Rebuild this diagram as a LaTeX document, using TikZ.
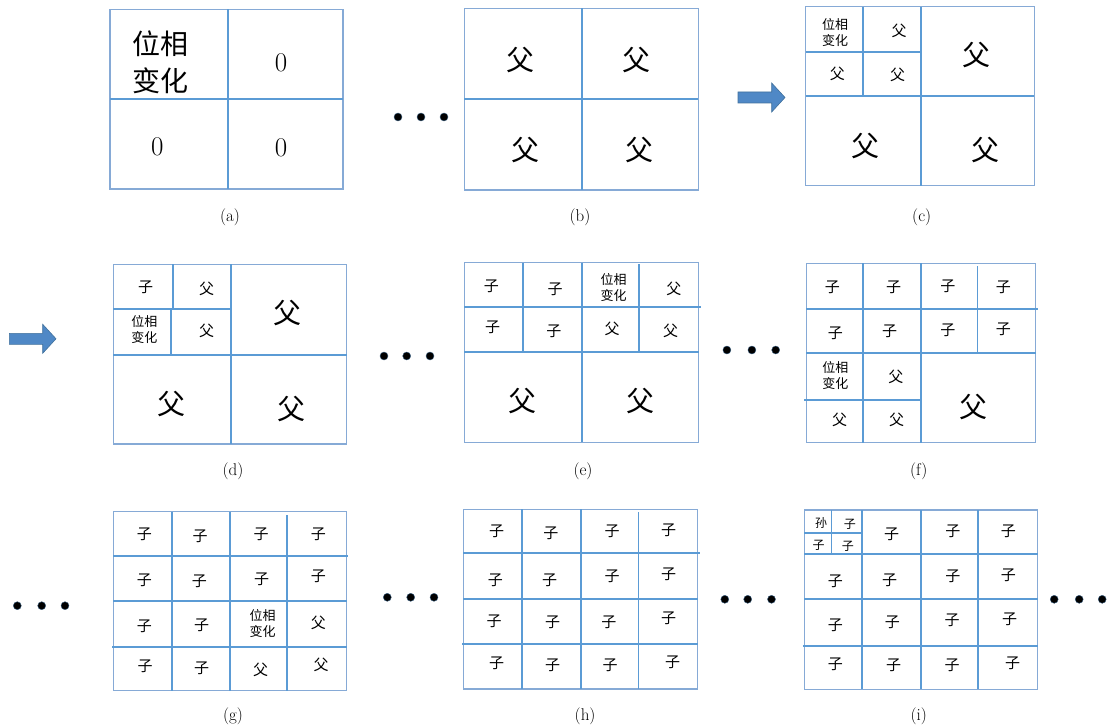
\documentclass[tikz,border=0pt]{standalone}
\usepackage{fontspec}
\newfontfamily\cjk{Noto Sans CJK SC}
\definecolor{framecol}{HTML}{86AAD6}
\definecolor{gridcol}{HTML}{5B9BD5}
\definecolor{arrowfill}{HTML}{4F88C6}
\definecolor{arrowedge}{HTML}{41719C}

\begin{document}
\begin{tikzpicture}[
  x=1pt, y=-1pt,
  frame/.style={draw=framecol, line width=1.1pt},
  divider/.style={draw=gridcol, line width=1.9pt},
  fubig/.style={font=\cjk\fontsize{28}{28}\selectfont},
  fusmall/.style={font=\cjk\fontsize{15}{15}\selectfont},
  zi/.style={font=\cjk\fontsize{15}{15}\selectfont},
  sun/.style={font=\cjk\fontsize{12}{12}\selectfont},
  phase/.style={font=\cjk\fontsize{13}{16}\selectfont, align=center, inner sep=0pt},
  phasebig/.style={font=\cjk\fontsize{28}{37}\selectfont, align=center, inner sep=0pt},
  zero/.style={font=\fontsize{27}{27}\selectfont},
  caption/.style={font=\fontsize{17}{17}\selectfont},
  dot/.style={circle, fill=black, draw=gridcol!60!black, line width=0.4pt,
    inner sep=0pt, minimum size=8pt},
  blockarrow/.style={fill=arrowfill, draw=arrowedge, line width=0.6pt},
]
\useasboundingbox (0,0) rectangle (1113,727);

% Caption rows
\def\capa{217}
\def\capb{471}
\def\capc{716}

% ============================================================
% (a) first phase change
% ============================================================
\draw[frame] (110,9.5) rectangle (343,189);
\draw[divider] (227.7,9.5) -- (227.7,189);
\draw[divider] (110,99.3) -- (343,99.3);

\node[phasebig] (a1) at (160,62) {位相\\变化};
\node[zero] (a2) at (281,63) {0};
\node[zero] (a3) at (157.3,147) {0};
\node[zero] (a4) at (281,148) {0};
\node[caption] (acap) at (230,\capa) {(a)};

\node[dot] (ad1) at (398,117) {};
\node[dot] (ad2) at (421,117) {};
\node[dot] (ad3) at (444,117) {};

% ============================================================
% (b) all parents
% ============================================================
\draw[frame] (464.3,8.3) rectangle (698.3,190);
\draw[divider] (582,8.3) -- (582,190);
\draw[divider] (464.3,99.3) -- (698.3,99.3);

\node[fubig] (b1) at (520,60) {父};
\node[fubig] (b2) at (636,60) {父};
\node[fubig] (b3) at (525.7,150) {父};
\node[fubig] (b4) at (639.3,150) {父};
\node[caption] (bcap) at (580,\capa) {(b)};

\draw[blockarrow, shift={(738,97.5)}] (0,-5.5) -- ++(33.7,0) -- ++(0,-9)
  -- ++(13.3,14.5) -- ++(-13.3,14.5) -- ++(0,-9) -- ++(-33.7,0) -- cycle;

% ============================================================
% (c) split of the first parent
% ============================================================
\draw[frame] (805.7,6.7) rectangle (1034.3,185.7);
\draw[divider] (920.7,6.7) -- (920.7,185.7);
\draw[divider] (805.7,96) -- (1034.3,96);
\draw[divider] (863.3,6.7) -- (863.3,97);
\draw[divider] (805.7,51.7) -- (920.7,51.7);

\node[phase] (c1) at (835,33) {位相\\变化};
\node[fusmall] (c2) at (899,31) {父};
\node[fusmall] (c3) at (837.3,74) {父};
\node[fusmall] (c4) at (897.7,75) {父};
\node[fubig] (c5) at (976.7,55) {父};
\node[fubig] (c6) at (865,146) {父};
\node[fubig] (c7) at (985,150) {父};
\node[caption] (ccap) at (921.7,\capa) {(c)};

% ============================================================
% (d) first child
% ============================================================
\draw[blockarrow, shift={(9.3,338.8)}] (0,-5.5) -- ++(33.4,0) -- ++(0,-9)
  -- ++(13.3,14.5) -- ++(-13.3,14.5) -- ++(0,-9) -- ++(-33.4,0) -- cycle;

\draw[frame] (113.3,264.3) rectangle (346.7,444);
\draw[divider] (230.7,264.3) -- (230.7,444);
\draw[divider] (113.3,355) -- (346.7,355);
\draw[divider] (172.7,264.3) -- (172.7,309);
\draw[divider] (171.3,309) -- (171.3,355);
\draw[divider] (113.3,309) -- (230.7,309);

\node[zi] (d1) at (145.7,287.3) {子};
\node[fusmall] (d2) at (206.7,288.7) {父};
\node[phase] (d3) at (144.3,330) {位相\\变化};
\node[fusmall] (d4) at (206.7,330.7) {父};
\node[fubig] (d5) at (287.3,312.7) {父};
\node[fubig] (d6) at (171,404) {父};
\node[fubig] (d7) at (291,409.3) {父};
\node[caption] (dcap) at (233,\capb) {(d)};

\node[dot] (dd1) at (384,356) {};
\node[dot] (dd2) at (406.7,356) {};
\node[dot] (dd3) at (430,356) {};

% ============================================================
% (e) second parent split
% ============================================================
\draw[frame] (464.2,262.7) rectangle (698.5,442.3);
\draw[divider] (464.2,307.3) -- (701,307.3);
\draw[divider] (464.2,351.7) -- (698.5,351.7);
\draw[divider] (523.4,262.7) -- (523.4,353);
\draw[divider] (582.2,262.7) -- (582.2,442.3);
\draw[divider] (639.3,264.5) -- (639.3,351.7);

\node[zi] (e1) at (491.3,286.7) {子};
\node[zi] (e2) at (555.1,289.3) {子};
\node[phase] (e3) at (613.5,287.7) {位相\\变化};
\node[fusmall] (e4) at (673.9,289.3) {父};
\node[zi] (e5) at (492.5,327.3) {子};
\node[zi] (e6) at (553.8,331) {子};
\node[fusmall] (e7) at (612.2,329.3) {父};
\node[fusmall] (e8) at (670.6,330.7) {父};
\node[fubig] (e9) at (522.6,400.7) {父};
\node[fubig] (e10) at (640.1,400.7) {父};
\node[caption] (ecap) at (583,\capb) {(e)};

\node[dot] (ed1) at (726.9,350) {};
\node[dot] (ed2) at (751.9,350) {};
\node[dot] (ed3) at (775.7,350) {};

% ============================================================
% (f) third parent split
% ============================================================
\draw[frame] (806.1,263.3) rectangle (1035.5,442.7);
\draw[divider] (806.1,308.7) -- (1037.5,308.7);
\draw[divider] (806.1,353.3) -- (1035.5,353.3);
\draw[divider] (804.4,400) -- (921.2,400);
\draw[divider] (863.2,263.3) -- (863.2,442.7);
\draw[divider] (921.2,263.3) -- (921.2,442.7);
\draw[divider] (977.5,266.5) -- (977.5,353.3);

\node[zi] (f1) at (832.4,287.3) {子};
\node[zi] (f2) at (893.7,287.3) {子};
\node[zi] (f3) at (947.9,286) {子};
\node[zi] (f4) at (1003.4,287.3) {子};
\node[zi] (f5) at (835.3,333.3) {子};
\node[zi] (f6) at (889.5,331.7) {子};
\node[zi] (f7) at (947.9,330) {子};
\node[zi] (f8) at (1003.4,329) {子};
\node[phase] (f9) at (835.3,376) {位相\\变化};
\node[fusmall] (f10) at (895.8,376.7) {父};
\node[fusmall] (f11) at (839.5,420) {父};
\node[fusmall] (f12) at (896.6,420) {父};
\node[fubig] (f13) at (973.7,406.7) {父};
\node[caption] (fcap) at (918.7,\capb) {(f)};

% ============================================================
% (g) last parent split
% ============================================================
\node[dot] (gd1) at (17.3,605.7) {};
\node[dot] (gd2) at (41.7,605.7) {};
\node[dot] (gd3) at (65,605.7) {};

\draw[frame] (113.3,511.7) rectangle (346.7,690.7);
\draw[divider] (113.3,555.7) -- (348.3,555.7);
\draw[divider] (113.3,600.7) -- (346.7,600.7);
\draw[divider] (112,646.7) -- (346.7,646.7);
\draw[divider] (171.7,511.7) -- (171.7,690.7);
\draw[divider] (230,511.7) -- (230,690.7);
\draw[divider] (287.3,515) -- (287.3,690.7);

\node[zi] (g1) at (144.3,534.3) {子};
\node[zi] (g2) at (200,536) {子};
\node[zi] (g3) at (261,534.3) {子};
\node[zi] (g4) at (318.3,534.3) {子};
\node[zi] (g5) at (144.3,580) {子};
\node[zi] (g6) at (199.3,581.7) {子};
\node[zi] (g7) at (261.7,579.3) {子};
\node[zi] (g8) at (318.3,576) {子};
\node[zi] (g9) at (144.3,626) {子};
\node[zi] (g10) at (201.7,625) {子};
\node[phase] (g11) at (262.7,623.3) {位相\\变化};
\node[fusmall] (g12) at (318.3,622.7) {父};
\node[zi] (g13) at (145,666.7) {子};
\node[zi] (g14) at (201.7,668.3) {子};
\node[fusmall] (g15) at (260.7,670) {父};
\node[fusmall] (g16) at (321,665) {父};
\node[caption] (gcap) at (233,\capc) {(g)};

\node[dot] (gd4) at (387.3,597.3) {};
\node[dot] (gd5) at (410.7,597.3) {};
\node[dot] (gd6) at (434,597.3) {};

% ============================================================
% (h) all children
% ============================================================
\draw[frame] (463.3,509.3) rectangle (697.7,689);
\draw[divider] (463.3,553.3) -- (699.5,553.3);
\draw[divider] (463.3,599) -- (697.7,599);
\draw[divider] (462,644) -- (697.7,644);
\draw[divider] (521.7,509.3) -- (521.7,689);
\draw[divider] (580.9,509.3) -- (580.9,689);
\draw[divider] (638.5,512) -- (638.5,689);

\node[zi] (h1) at (496.7,531.7) {子};
\node[zi] (h2) at (550.9,533.3) {子};
\node[zi] (h3) at (612.2,531.7) {子};
\node[zi] (h4) at (668.5,530.7) {子};
\node[zi] (h5) at (495.4,580) {子};
\node[zi] (h6) at (549.7,580) {子};
\node[zi] (h7) at (612.2,576) {子};
\node[zi] (h8) at (668.5,574) {子};
\node[zi] (h9) at (494.2,621.7) {子};
\node[zi] (h10) at (552.6,622.7) {子};
\node[zi] (h11) at (608.9,622.7) {子};
\node[zi] (h12) at (668.5,618.3) {子};
\node[zi] (h13) at (496.7,663.3) {子};
\node[zi] (h14) at (552.6,665) {子};
\node[zi] (h15) at (610.1,665.7) {子};
\node[zi] (h16) at (672.7,662.7) {子};
\node[caption] (hcap) at (585.1,\capc) {(h)};

\node[dot] (hd1) at (724.8,599.3) {};
\node[dot] (hd2) at (747.7,599.3) {};
\node[dot] (hd3) at (771.5,599.3) {};

% ============================================================
% (i) first grandchild
% ============================================================
\draw[frame] (804.4,510) rectangle (1037.5,689.3);
\draw[divider] (804.4,554) -- (1037.5,554);
\draw[divider] (804.4,599.3) -- (1037.5,599.3);
\draw[divider] (802.8,645.7) -- (1037.5,645.7);
\draw[divider] (862.4,510) -- (862.4,689.3);
\draw[divider] (920.8,510) -- (920.8,689.3);
\draw[divider] (978.3,510) -- (978.3,689.3);
\draw[divider] (831.5,510) -- (831.5,554);
\draw[divider] (804.4,532.7) -- (862.4,532.7);

\node[sun] (i1) at (821.1,522.7) {孙};
\node[sun] (i2) at (849.9,524) {子};
\node[sun] (i3) at (818.6,545) {子};
\node[sun] (i4) at (847.8,546) {子};
\node[zi] (i5) at (891.6,534.3) {子};
\node[zi] (i6) at (952.9,531.7) {子};
\node[zi] (i7) at (1008.4,531.7) {子};
\node[zi] (i8) at (835.3,581.7) {子};
\node[zi] (i9) at (889.5,580) {子};
\node[zi] (i10) at (952.9,576) {子};
\node[zi] (i11) at (1008.4,575) {子};
\node[zi] (i12) at (835.3,625) {子};
\node[zi] (i13) at (892.4,622.7) {子};
\node[zi] (i14) at (952.1,620) {子};
\node[zi] (i15) at (1009.6,619.3) {子};
\node[zi] (i16) at (835.3,664) {子};
\node[zi] (i17) at (893.7,665) {子};
\node[zi] (i18) at (952.1,665) {子};
\node[zi] (i19) at (1012.5,663.3) {子};
\node[caption] (icap) at (918.7,\capc) {(i)};

\node[dot] (id1) at (1054.2,599.3) {};
\node[dot] (id2) at (1079.2,599.3) {};
\node[dot] (id3) at (1102.2,599.3) {};

\end{tikzpicture}
\end{document}
